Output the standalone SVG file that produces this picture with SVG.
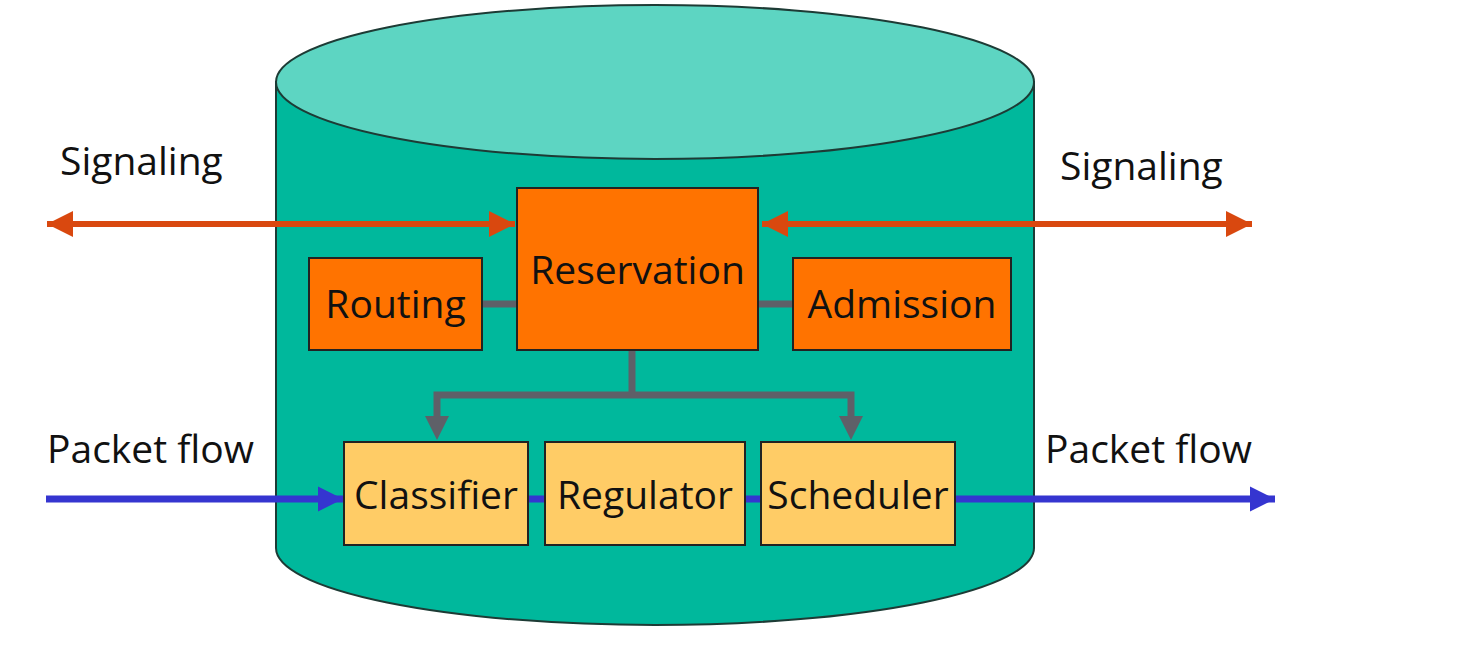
<svg xmlns="http://www.w3.org/2000/svg" width="1468" height="645" viewBox="0 0 1468 645">
<defs>
<style>
.lbl{font-family:"Open Sans","Liberation Sans",sans-serif;font-size:39px;fill:#111;}
.box-o{fill:#FF7300;stroke:#222;stroke-width:2;}
.box-y{fill:#FFCC66;stroke:#222;stroke-width:2;}
.sig{stroke:#D9480F;stroke-width:6;fill:none;}
.pkt{stroke:#3535D0;stroke-width:7;fill:none;}
.ctl{stroke:#5E6068;stroke-width:7;fill:none;}
</style>
<marker id="ah-sig" viewBox="0 0 10 10" refX="10" refY="5" markerWidth="4.4" markerHeight="4.4" orient="auto-start-reverse" markerUnits="strokeWidth"><path d="M0,0 L10,5 L0,10 Z" fill="#D9480F"/></marker>
<marker id="ah-pkt" viewBox="0 0 10 10" refX="10" refY="5" markerWidth="3.6" markerHeight="3.6" orient="auto" markerUnits="strokeWidth"><path d="M0,0 L10,5 L0,10 Z" fill="#3535D0"/></marker>
</defs>
<rect width="1468" height="645" fill="#fff"/>
<g id="cylinder">
<path d="M276,82 L276,548 A379,77 0 0 0 1034,548 L1034,82 Z" fill="#00B89C" stroke="#1d3b35" stroke-width="2"/>
<ellipse cx="655" cy="82" rx="379" ry="77" fill="#5DD5C2" stroke="#1d3b35" stroke-width="2"/>
</g>
<g id="connectors">
<line class="sig" x1="47" y1="224" x2="515" y2="224" marker-start="url(#ah-sig)" marker-end="url(#ah-sig)"/>
<line class="sig" x1="762" y1="224" x2="1252" y2="224" marker-start="url(#ah-sig)" marker-end="url(#ah-sig)"/>
<line class="ctl" x1="482" y1="304" x2="517" y2="304"/>
<line class="ctl" x1="758" y1="304" x2="793" y2="304"/>
<path class="ctl" d="M632,350 L632,395"/>
<path class="ctl" d="M437,420 L437,395 L851,395 L851,420"/>
<path d="M425,416 L449,416 L437,440 Z" fill="#5E6068"/>
<path d="M839,416 L863,416 L851,440 Z" fill="#5E6068"/>
<line class="pkt" x1="46" y1="499" x2="343" y2="499" marker-end="url(#ah-pkt)"/>
<line class="pkt" x1="528" y1="499" x2="545" y2="499"/>
<line class="pkt" x1="745" y1="499" x2="761" y2="499"/>
<line class="pkt" x1="955" y1="499" x2="1275" y2="499" marker-end="url(#ah-pkt)"/>
</g>
<g id="reservation"><rect class="box-o" x="517" y="188" width="241" height="162"/><text class="lbl" x="637.5" y="284" text-anchor="middle">Reservation</text></g>
<g id="routing"><rect class="box-o" x="309" y="258" width="173" height="92"/><text class="lbl" x="395.5" y="318" text-anchor="middle">Routing</text></g>
<g id="admission"><rect class="box-o" x="793" y="258" width="218" height="92"/><text class="lbl" x="902" y="318" text-anchor="middle">Admission</text></g>
<g id="classifier"><rect class="box-y" x="344" y="442" width="184" height="103"/><text class="lbl" x="436" y="509" text-anchor="middle">Classifier</text></g>
<g id="regulator"><rect class="box-y" x="545" y="442" width="200" height="103"/><text class="lbl" x="645" y="509" text-anchor="middle">Regulator</text></g>
<g id="scheduler"><rect class="box-y" x="761" y="442" width="194" height="103"/><text class="lbl" x="858" y="509" text-anchor="middle">Scheduler</text></g>
<g id="labels">
<text class="lbl" x="60" y="175">Signaling</text>
<text class="lbl" x="1060" y="180">Signaling</text>
<text class="lbl" x="47" y="463">Packet flow</text>
<text class="lbl" x="1045" y="463">Packet flow</text>
</g>
</svg>
